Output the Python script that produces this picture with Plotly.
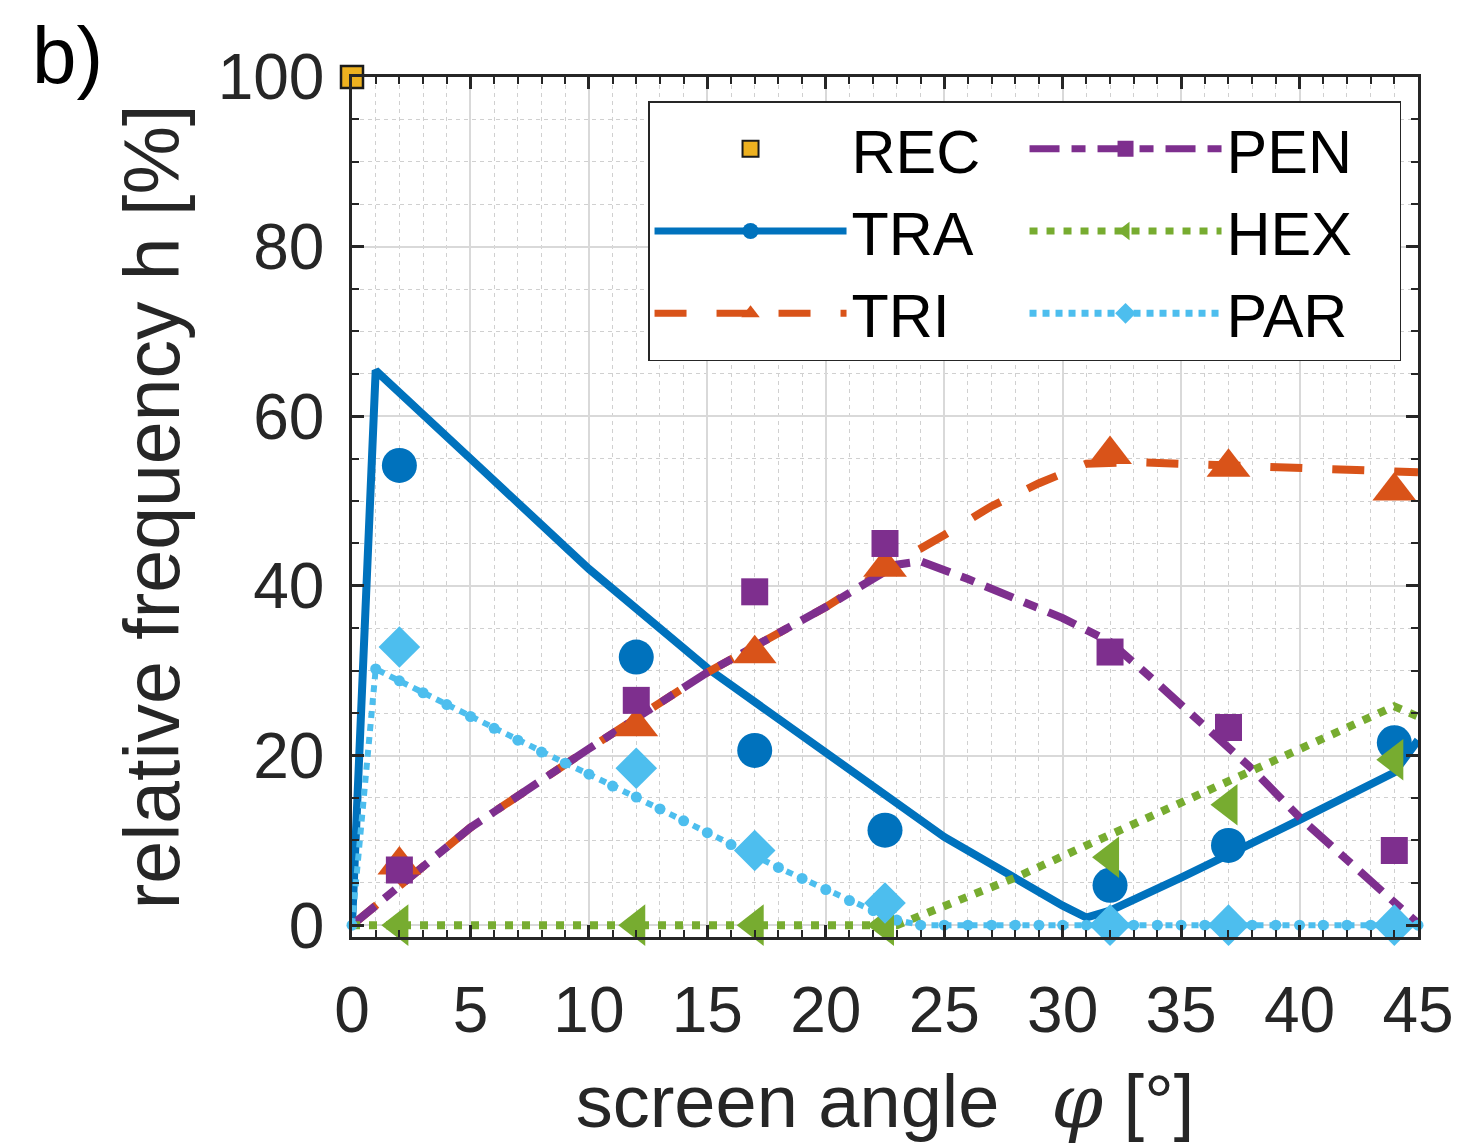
import plotly.graph_objects as go

# ---- data ----
angles = [2, 12, 17, 22.5, 32, 37, 44]           # screen angle of measurements [deg]
rec_x = [0]
rec_y = [100]
tra_pts = [54.2, 31.6, 20.6, 11.2, 4.7, 9.4, 21.5]
tri_pts = [7.1, 23.4, 32.0, 42.2, 55.5, 54.0, 51.2]
pen_pts = [6.5, 26.5, 39.3, 45.0, 32.2, 23.3, 8.8]
hex_pts = [0.0, 0.0, 0.0, 0.0, 8.0, 14.2, 19.5]
par_pts = [32.8, 18.5, 8.8, 2.6, 0.0, 0.0, 0.0]

# model curves
tra_line_x = [0, 1, 5, 10, 15, 20, 25, 30, 31, 32, 35, 40, 44, 45]
tra_line_y = [0, 65.4, 55.0, 42.0, 30.3, 20.3, 10.4, 2.3, 0.9, 1.7, 5.6, 12.4, 18.0, 21.8]

tri_line_x = [0, 5, 10, 15, 20, 23, 25, 27, 29, 31, 33, 37, 42, 45]
tri_line_y = [0, 11.5, 20.8, 29.8, 37.5, 42.8, 46.0, 49.4, 52.1, 54.4, 54.6, 54.2, 53.9, 53.4]

pen_line_x = [0, 5, 10, 15, 20, 23, 24, 26, 30, 32, 34, 38, 40, 45]
pen_line_y = [0, 11.5, 20.8, 29.8, 37.5, 42.5, 42.9, 40.8, 36.2, 33.4, 28.5, 18.4, 12.7, 0.2]

hex_line_x = [0, 23, 28, 33, 38, 44, 45]
hex_line_y = [0, 0, 5.6, 11.9, 18.3, 25.8, 24.6]

par_line_x = list(range(0, 46))
par_line_y = [0, 30.2, 28.8, 27.4, 26.0, 24.6, 23.2, 21.8, 20.4, 19.1,
              17.8, 16.4, 15.1, 13.7, 12.3, 10.9, 9.5, 8.1, 6.8, 5.5,
              4.2, 2.9, 1.7, 0.6, 0, 0, 0, 0, 0, 0,
              0, 0, 0, 0, 0, 0, 0, 0, 0, 0,
              0, 0, 0, 0, 0, 0]

x_ticks = [0, 5, 10, 15, 20, 25, 30, 35, 40, 45]
y_ticks = [0, 20, 40, 60, 80, 100]

C_TRA = "#0072BD"
C_TRI = "#D95319"
C_REC = "#EDB120"
C_PEN = "#7E2F8E"
C_HEX = "#77AC30"
C_PAR = "#4DBEEE"

FONT = "Liberation Sans, Arial, Helvetica, sans-serif"
INK = "#262626"

D_TRI = "32px,30px"
D_PEN = "30px,12px,14px,12px"
D_HEX = "8px,9px"
D_PAR = "7px,6px"

fig = go.Figure()

# ---- lines ----
fig.add_trace(go.Scatter(x=tra_line_x, y=tra_line_y, mode="lines", showlegend=False,
                         line=dict(color=C_TRA, width=8), cliponaxis=False))
fig.add_trace(go.Scatter(x=tri_line_x, y=tri_line_y, mode="lines", showlegend=False,
                         line=dict(color=C_TRI, width=8, dash=D_TRI), cliponaxis=False))
fig.add_trace(go.Scatter(x=pen_line_x, y=pen_line_y, mode="lines", showlegend=False,
                         line=dict(color=C_PEN, width=8, dash=D_PEN), cliponaxis=False))
fig.add_trace(go.Scatter(x=hex_line_x, y=hex_line_y, mode="lines", showlegend=False,
                         line=dict(color=C_HEX, width=8, dash=D_HEX), cliponaxis=False))
fig.add_trace(go.Scatter(x=par_line_x, y=par_line_y, mode="lines+markers", showlegend=False,
                         line=dict(color=C_PAR, width=6, dash=D_PAR),
                         marker=dict(color=C_PAR, size=11, symbol="circle"), cliponaxis=False))

# ---- measured markers ----
fig.add_trace(go.Scatter(x=rec_x, y=rec_y, mode="markers", showlegend=False,
                         marker=dict(symbol="square", size=22, color=C_REC,
                                     line=dict(color="#1a1a1a", width=2.5)), cliponaxis=False))
fig.add_trace(go.Scatter(x=angles, y=tra_pts, mode="markers", showlegend=False,
                         marker=dict(symbol="circle", size=35, color=C_TRA), cliponaxis=False))
fig.add_trace(go.Scatter(x=angles, y=tri_pts, mode="markers", showlegend=False,
                         marker=dict(symbol="triangle-up", size=38, color=C_TRI), cliponaxis=False))
fig.add_trace(go.Scatter(x=angles, y=pen_pts, mode="markers", showlegend=False,
                         marker=dict(symbol="square", size=27, color=C_PEN), cliponaxis=False))
fig.add_trace(go.Scatter(x=angles, y=hex_pts, mode="markers", showlegend=False,
                         marker=dict(symbol="triangle-left", size=36, color=C_HEX), cliponaxis=False))
fig.add_trace(go.Scatter(x=angles, y=par_pts, mode="markers", showlegend=False,
                         marker=dict(symbol="diamond", size=32, color=C_PAR), cliponaxis=False))

# ---- legend entries (row-major for 2 columns) ----
legend_items = [
    ("REC", "markers", None, None, "square", C_REC),
    ("PEN", "lines+markers", C_PEN, D_PEN, "square", C_PEN),
    ("TRA", "lines+markers", C_TRA, "solid", "circle", C_TRA),
    ("HEX", "lines+markers", C_HEX, D_HEX, "triangle-left", C_HEX),
    ("TRI", "lines+markers", C_TRI, D_TRI, "triangle-up", C_TRI),
    ("PAR", "lines+markers", C_PAR, D_PAR, "diamond", C_PAR),
]
for name, mode, lc, dash, sym, mc in legend_items:
    mk = dict(symbol=sym, color=mc, size=16)
    if name == "REC":
        mk["line"] = dict(color="#1a1a1a", width=2)
    kw = dict(x=[None], y=[None], mode=mode, name=name, marker=mk)
    if lc:
        kw["line"] = dict(color=lc, width=7, dash=dash)
    fig.add_trace(go.Scatter(**kw))

axis_common = dict(
    showline=True, linecolor=INK, linewidth=2.5, mirror="allticks",
    ticks="inside", tickcolor=INK, tickwidth=2.5,
    showgrid=True, gridcolor="#d9d9d9", gridwidth=1.5,
    zeroline=False, automargin=False,
    tickfont=dict(family=FONT, size=64, color=INK),
)

fig.update_xaxes(
    **axis_common, range=[0, 45], tickvals=x_ticks, ticklen=12,
    ticklabelstandoff=15,
    minor=dict(dtick=1, ticks="inside", ticklen=7, tickcolor=INK, tickwidth=2,
               showgrid=True, gridcolor="#d0d0d0", gridwidth=1.3, griddash="4px,4px"),
    title=dict(text="screen angle\u2002\u2009<span style=\"font-family:'DejaVu Serif'\"><i>φ</i></span> [°]",
               font=dict(family=FONT, size=74, color=INK), standoff=34),
)
fig.update_yaxes(
    **axis_common, range=[-1.4, 100], tickvals=y_ticks, ticklen=12,
    ticklabelstandoff=12,
    minor=dict(dtick=5, ticks="inside", ticklen=7, tickcolor=INK, tickwidth=2,
               showgrid=True, gridcolor="#d0d0d0", gridwidth=1.3, griddash="4px,4px"),
    title=dict(text="relative frequency h [%]",
               font=dict(family=FONT, size=77, color=INK), standoff=13),
)

# the page adds an 8px body margin; the figure is sized to fit the 1462x1144 window
fig.update_layout(
    width=1454, height=1136,
    margin=dict(l=344, r=44, t=69, b=207),
    paper_bgcolor="white", plot_bgcolor="white",
    legend=dict(
        orientation="h", x=0.2777, y=0.972, xanchor="left", yanchor="top",
        entrywidth=168, entrywidthmode="pixels", itemwidth=192,
        font=dict(family=FONT, size=61, color="black"),
        bgcolor="white", bordercolor=INK, borderwidth=1.5,
        traceorder="normal", tracegroupgap=0,
    ),
    annotations=[dict(text="b)", xref="paper", yref="paper",
                      x=-0.302, y=1.079, xanchor="left", yanchor="top", showarrow=False,
                      font=dict(family=FONT, size=80, color="black"))],
)

fig.write_html("out.html")
